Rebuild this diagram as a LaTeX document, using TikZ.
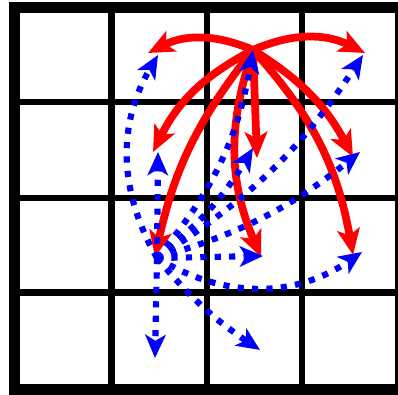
\documentclass[tikz,border=0pt]{standalone}
\usetikzlibrary{arrows.meta}
\begin{document}
\begin{tikzpicture}[x=0.01cm,y=0.01cm,
  outerline/.style={line width=3.13pt,black},
  innerline/.style={line width=1.85pt,black},
  redarrow/.style={draw=red,line width=2.2pt,-{Stealth[length=7.4pt,width=6.4pt,inset=1.8pt]}},
  bluearrow/.style={draw=blue,line width=1.75pt,dash pattern=on 1.75pt off 2.35pt,-{Stealth[length=6.6pt,width=5.8pt,inset=1.7pt]}}]
\useasboundingbox (0,0) rectangle (398,395);
\clip (0,0) rectangle (398,395);
% grid
\foreach \x in {111.5,207,302} \draw[innerline] (\x,5.5) -- (\x,387.5);
\foreach \y in {293,197,102.5} \draw[innerline] (14.5,\y) -- (400.5,\y);
\draw[outerline] (14.5,5.5) rectangle (400.5,387.5);
% points
\coordinate (R) at (253,345);
\coordinate (B) at (157,137);
\coordinate (r1) at (148,342);
\coordinate (r2) at (365,342);
\coordinate (r3) at (257,237);
\coordinate (r4) at (353,238);
\coordinate (r5) at (153,243);
\coordinate (r6) at (155,138);
\coordinate (r7) at (261,138);
\coordinate (r8) at (353,140);
\coordinate (b1) at (158,340);
\coordinate (b2) at (158,243);
\coordinate (b3) at (253,345);
\coordinate (b4) at (363,340);
\coordinate (b5) at (253,247);
\coordinate (b6) at (360,243);
\coordinate (b7) at (263,139);
\coordinate (b8) at (362,143);
\coordinate (b9) at (155,37);
\coordinate (b10) at (260,45);
% red arrows
\draw[redarrow] (R) to[bend right=25] (r1);
\draw[redarrow] (R) to[bend left=25] (r2);
\draw[redarrow] (R) -- (r3);
\draw[redarrow] (R) to[bend left=15] (r4);
\draw[redarrow] (R) to[bend right=18] (r5);
\draw[redarrow] (R) to[bend right=13] (r6);
\draw[redarrow] (R) to[bend right=21] (r7);
\draw[redarrow] (R) to[bend left=16] (r8);
% blue arrows
\draw[bluearrow] (B) to[bend left=30] (b1);
\draw[bluearrow] (B) -- (b2);
\draw[bluearrow] (B) to[bend right=15] (b3);
\draw[bluearrow] (B) to[bend right=12] (b4);
\draw[bluearrow] (B) to[bend right=10] (b5);
\draw[bluearrow] (B) to[bend right=11] (b6);
\draw[bluearrow] (B) -- (b7);
\draw[bluearrow] (B) to[bend right=33] (b8);
\draw[bluearrow] (B) -- (b9);
\draw[bluearrow] (B) to[bend right=8] (b10);
\end{tikzpicture}
\end{document}
